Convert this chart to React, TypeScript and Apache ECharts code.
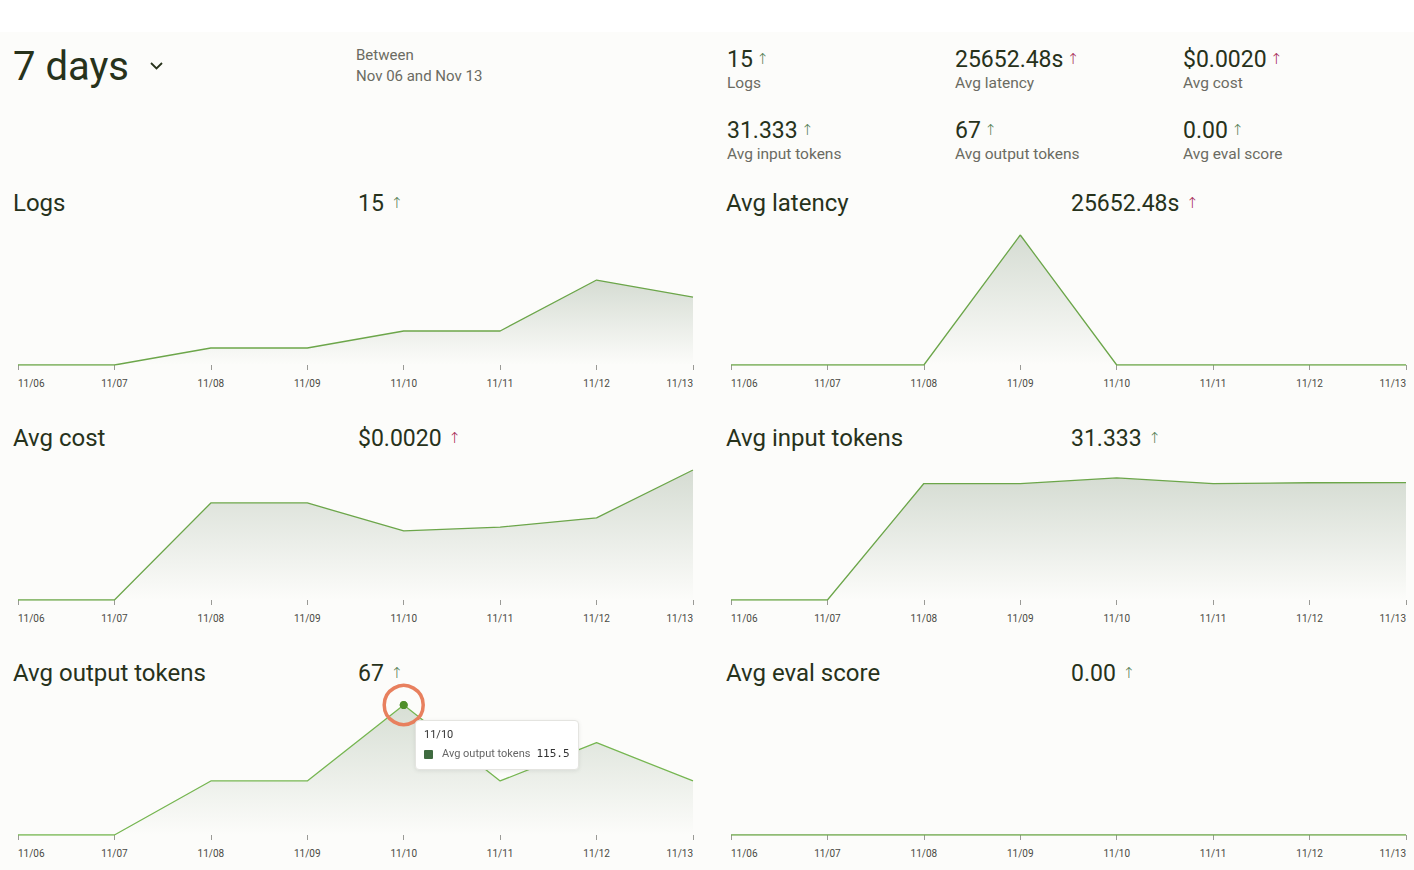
import React, { useEffect, useRef } from "react";
import * as echarts from "echarts";

const days = ["11/06", "11/07", "11/08", "11/09", "11/10", "11/11", "11/12", "11/13"];
const logsValues = [0, 0, 1, 1, 2, 2, 5, 4];
const latencyValues = [0, 0, 0, 384787.2, 0, 0, 0, 0];
const costValues = [0, 0, 0.00209, 0.00209, 0.00149, 0.00157, 0.00177, 0.0028];
const inputTokenValues = [0, 0, 31, 31, 32.5, 31, 31.2, 31.25];
const outputTokenValues = [0, 0, 48, 48, 115.5, 48, 82, 48];
const evalScoreValues = [0, 0, 0, 0, 0, 0, 0, 0];

const metricNames = ["Logs", "Avg latency", "Avg cost", "Avg input tokens", "Avg output tokens", "Avg eval score"];
const metricTotals = ["15", "25652.48s", "$0.0020", "31.333", "67", "0.00"];
const metricTrendBad = [false, true, true, false, false, false];
const metricSeries = [logsValues, latencyValues, costValues, inputTokenValues, outputTokenValues, evalScoreValues];
const metricAxisMax = [7.65, 384787.2, 0.0028, 34.6, 115.5, 1];

const rangeLabel = "7 days";
const betweenLabel = "Between";
const rangeDates = "Nov 06 and Nov 13";

const FONT = "Roboto, 'Noto Sans', sans-serif";
const DARK = "#27321b";
const GRAY = "#6b6b62";
const GOOD = "#4e7a4e";
const BAD = "#a3234f";
const LINE = "#6ca64a";

export default function App() {
  const ref = useRef<HTMLDivElement>(null);
  useEffect(() => {
    document.body.style.margin = "0";
    const el = ref.current!;
    const chart = echarts.init(el, null, { renderer: "svg" });

    const colX = [18, 731];
    const rowTop = [235, 470, 705];
    const grids: any[] = [];
    const xAxes: any[] = [];
    const yAxes: any[] = [];
    const series: any[] = [];
    const graphics: any[] = [];

    graphics.push({ type: "rect", shape: { x: 0, y: 32, width: 1414, height: 838 }, style: { fill: "#fcfcfa" }, z: -10 });
    graphics.push({ type: "text", x: 13, y: 66, style: { text: rangeLabel, font: `400 40px ${FONT}`, fill: DARK, verticalAlign: "middle" } });
    graphics.push({ type: "polyline", shape: { points: [[151, 63], [156.5, 68.5], [162, 63]] }, style: { stroke: DARK, lineWidth: 1.8, fill: "none" } });
    graphics.push({ type: "text", x: 356, y: 55, style: { text: betweenLabel, font: `400 15px ${FONT}`, fill: GRAY, verticalAlign: "middle" } });
    graphics.push({ type: "text", x: 356, y: 76, style: { text: rangeDates, font: `400 15px ${FONT}`, fill: GRAY, verticalAlign: "middle" } });

    const arrowRich = (color: string) => ({ font: `300 15px 'DejaVu Sans', sans-serif`, fill: color });

    const statX = [727, 955, 1183];
    const statY = [59, 130];
    metricNames.forEach((name, i) => {
      const sx = statX[i % 3];
      const sy = statY[Math.floor(i / 3)];
      const arrowColor = metricTrendBad[i] ? BAD : GOOD;
      graphics.push({
        type: "text", x: sx, y: sy,
        style: {
          text: `{v|${metricTotals[i]}} {a|↑}`,
          verticalAlign: "middle",
          rich: {
            v: { font: `400 23px ${FONT}`, fill: DARK },
            a: arrowRich(arrowColor),
          },
        },
      });
      graphics.push({ type: "text", x: sx, y: sy + 24, style: { text: name, font: `400 15.5px ${FONT}`, fill: GRAY, verticalAlign: "middle" } });
    });

    metricNames.forEach((name, i) => {
      const col = i % 2;
      const row = Math.floor(i / 2);
      const left = colX[col];
      const top = rowTop[row];
      const titleY = top - 32;
      const arrowColor = metricTrendBad[i] ? BAD : GOOD;
      graphics.push({ type: "text", x: left - 5, y: titleY, style: { text: name, font: `400 24px ${FONT}`, fill: DARK, verticalAlign: "middle" } });
      graphics.push({
        type: "text", x: left + 340, y: titleY,
        style: {
          text: `{v|${metricTotals[i]}}  {a|↑}`,
          verticalAlign: "middle",
          rich: {
            v: { font: `400 23px ${FONT}`, fill: DARK },
            a: arrowRich(arrowColor),
          },
        },
      });

      grids.push({ left, top, width: 675, height: 130 });
      xAxes.push({
        type: "category",
        gridIndex: i,
        data: days,
        boundaryGap: false,
        axisLine: { show: false },
        axisTick: { show: true, length: 5, lineStyle: { color: "#9a9a96", width: 1 } },
        axisLabel: {
          interval: 0,
          fontSize: 10,
          fontFamily: FONT,
          color: "#4a4a44",
          margin: 13,
          alignMinLabel: "left",
          alignMaxLabel: "right",
        },
        splitLine: { show: false },
      });
      yAxes.push({ type: "value", gridIndex: i, show: false, min: 0, max: metricAxisMax[i], splitLine: { show: false } });
      const s: any = {
        type: "line",
        name,
        xAxisIndex: i,
        yAxisIndex: i,
        data: metricSeries[i],
        showSymbol: false,
        symbol: "circle",
        symbolSize: 8,
        itemStyle: { color: "#4f8f2a" },
        emphasis: { scale: false },
        lineStyle: { color: LINE, width: 1.3 },
        areaStyle: {
          color: new echarts.graphic.LinearGradient(0, 0, 0, 1, [
            { offset: 0, color: "rgba(80,110,75,0.32)" },
            { offset: 1, color: "rgba(80,110,75,0.0)" },
          ]),
        },
      };
      if (i === 4) {
        s.markPoint = {
          silent: true,
          label: { show: false },
          data: [
            {
              coord: [4, outputTokenValues[4]],
              symbol: "circle",
              symbolSize: 39,
              itemStyle: { color: "rgba(0,0,0,0)", borderColor: "#e8805e", borderWidth: 3.5 },
            },
            {
              coord: [4, outputTokenValues[4]],
              symbol: "circle",
              symbolSize: 8,
              itemStyle: { color: "#4f8f2a" },
            },
          ],
        };
      }
      series.push(s);
    });

    chart.setOption({
      animation: false,
      backgroundColor: "#ffffff",
      textStyle: { fontFamily: FONT },
      grid: grids,
      xAxis: xAxes,
      yAxis: yAxes,
      series,
      graphic: graphics,
      tooltip: {
        trigger: "axis",
        triggerOn: "none",
        alwaysShowContent: true,
        axisPointer: { type: "none" },
        backgroundColor: "#ffffff",
        borderColor: "#e4e4e0",
        borderWidth: 1,
        padding: [7, 8, 8, 8],
        extraCssText: "box-shadow: 0 1px 4px rgba(0,0,0,0.08); border-radius: 4px;",
        position: (point: number[]) => [point[0] + 11, point[1] + 15],
        formatter: (params: any) => {
          const p = Array.isArray(params) ? params[0] : params;
          return `<div style="font-family:${FONT};font-size:11px;color:#333;line-height:14px;">${p.axisValue}</div>` +
            `<div style="display:flex;align-items:center;margin-top:5px;font-family:${FONT};font-size:11px;line-height:14px;">` +
            `<span style="display:inline-block;width:9px;height:9px;background:#3f6b40;border-radius:1px;margin-right:9px;"></span>` +
            `<span style="color:#666;">${p.seriesName}</span>` +
            `<span style="font-family:'DejaVu Sans Mono',monospace;color:#333;margin-left:6px;font-size:11px;">${p.value}</span></div>`;
        },
      },
    });

    const show = () => chart.dispatchAction({ type: "showTip", seriesIndex: 4, dataIndex: 4 });
    show();
    const t = setTimeout(show, 50);

    return () => {
      clearTimeout(t);
      chart.dispose();
    };
  }, []);

  return <div ref={ref} style={{ width: 1414, height: 870, position: "relative" }} />;
}
